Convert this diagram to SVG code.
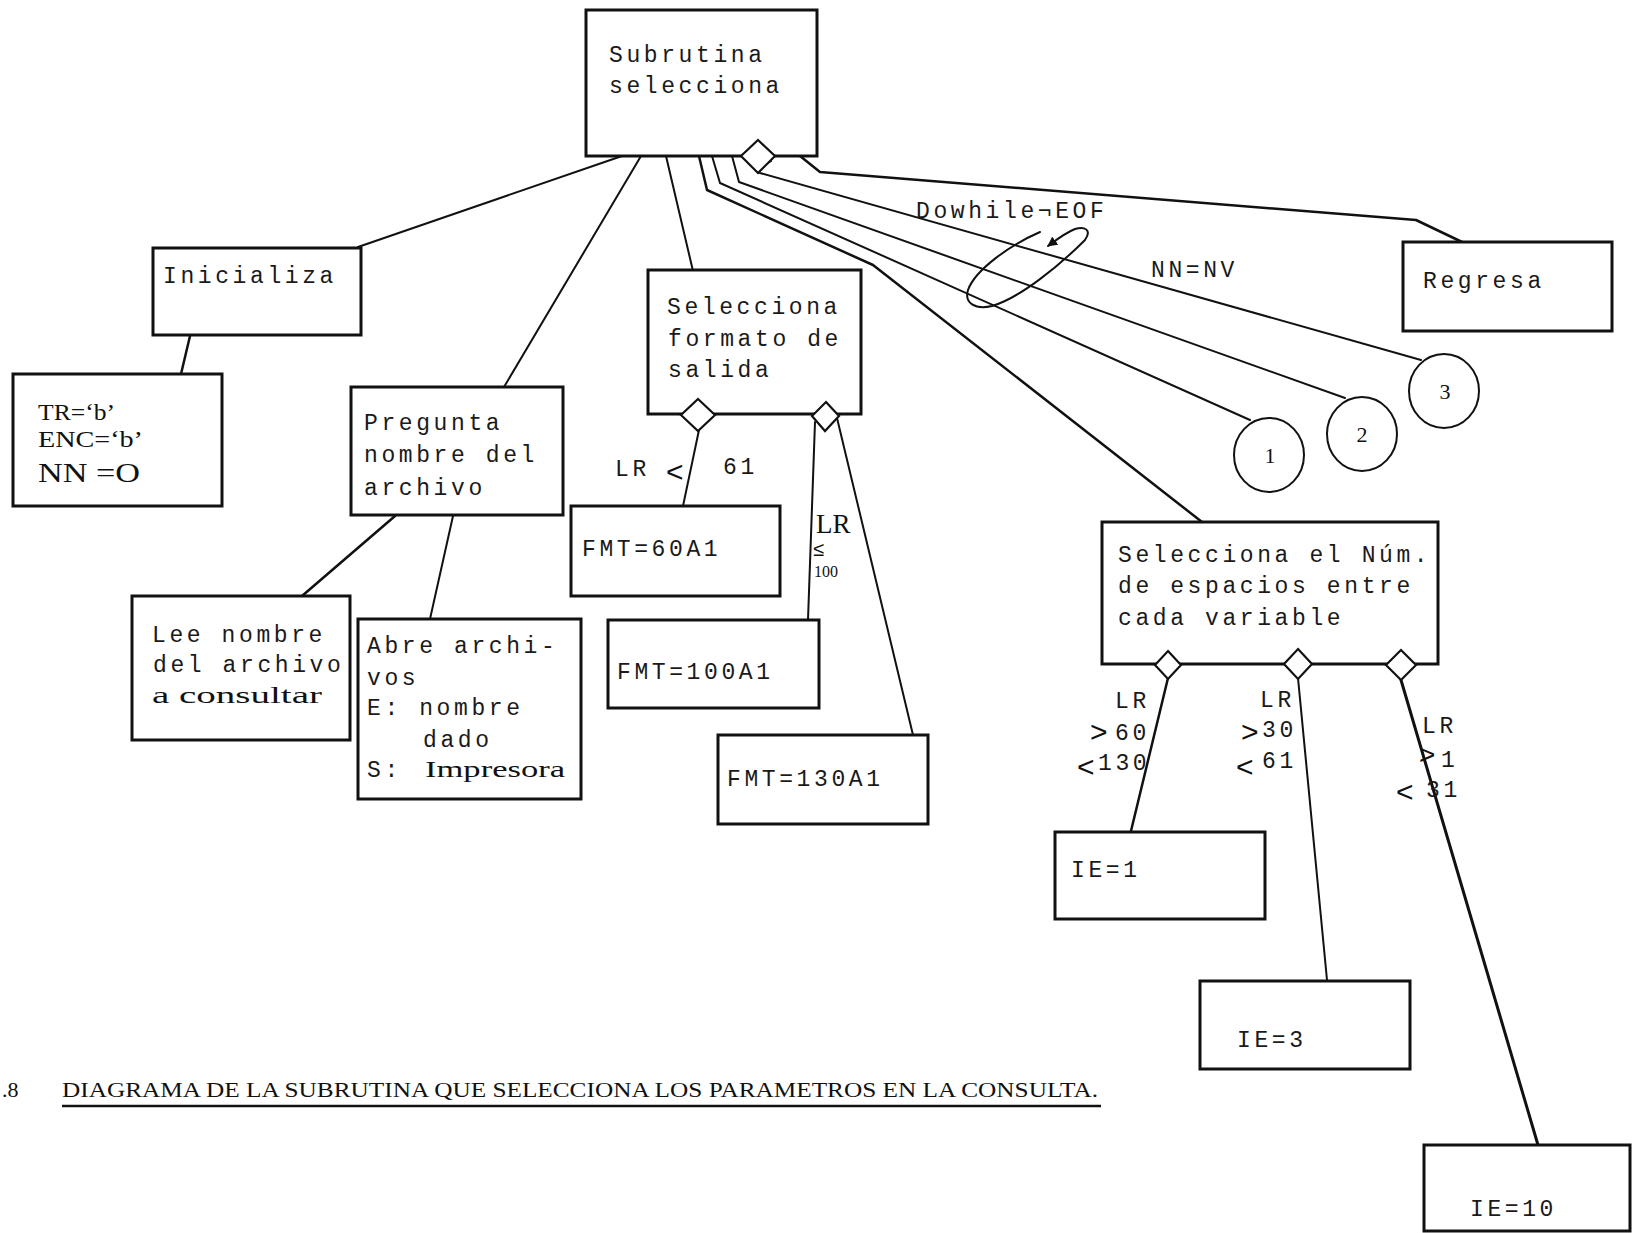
<svg xmlns="http://www.w3.org/2000/svg" width="1632" height="1233" viewBox="0 0 1632 1233">
<style>
.box{fill:#fff;stroke:#111;stroke-width:3}
.dia{fill:#fff;stroke:#111;stroke-width:2.2;stroke-linejoin:miter}
.ln{fill:none;stroke:#111;stroke-width:2;stroke-linejoin:round;stroke-linecap:round}
.tw{font-family:"Liberation Mono",monospace;font-size:23px;letter-spacing:3.6px;fill:#1a1a1a}
.hw{font-family:"Liberation Serif",serif;fill:#111}
.sym{font-family:"Liberation Sans",sans-serif;fill:#111}
.num{font-family:"Liberation Serif",serif;font-size:22px;fill:#111;text-anchor:middle}
.cap{font-family:"Liberation Serif",serif;font-size:22px;fill:#111}
</style>
<defs>
<marker id="ah" viewBox="0 0 10 10" refX="9" refY="5" markerWidth="5" markerHeight="5" orient="auto"><path d="M0,0 L10,5 L0,10 z" fill="#111"/></marker>
</defs>
<rect width="1632" height="1233" fill="#fff"/>

<!-- connectors -->
<g id="connectors">
  <path class="ln" d="M622,156 L358,247"/>
  <path class="ln" d="M641,156 L504,387"/>
  <path class="ln" d="M666,156 L693,271"/>
  <path class="ln" style="stroke-width:2.5" d="M699,156 L707,190 L873,265 L1202,522"/>
  <path class="ln" d="M712,156 L720,183 L1250,420"/>
  <path class="ln" d="M732,156 L739,182 L1345,398"/>
  <path class="ln" d="M771,161 C761,165 754,171 760,173 L1421,360"/>
  <path class="ln" style="stroke-width:2.5" d="M800,156 L820,172 L1416,220 L1462,242"/>
  <!-- loop marking the repetition -->
  <path class="ln" d="M1040,232 C1010,245 975,270 968,290 C964,303 975,310 992,306 C1020,298 1060,265 1085,240 C1092,230 1085,226 1075,229 C1065,233 1056,240 1048,246" marker-end="url(#ah)"/>
  <path class="ln" style="stroke-width:2.5" d="M190,336 L181,374"/>
  <path class="ln" style="stroke-width:2.5" d="M395,516 L302,596"/>
  <path class="ln" d="M453,516 L430,619"/>
  <path class="ln" d="M699,430 L683,506"/>
  <path class="ln" d="M815,422 L808,620"/>
  <path class="ln" d="M837,418 L913,735"/>
  <path class="ln" style="stroke-width:2.5" d="M1168,678 L1131,831"/>
  <path class="ln" d="M1298,678 L1327,980"/>
  <path class="ln" style="stroke-width:3" d="M1401,680 L1538,1145"/>
</g>

<!-- connector labels -->
<g id="labels">
  <text class="tw" x="916" y="218">Dowhile¬EOF</text>
  <text class="tw" x="1151" y="277">NN=NV</text>
  <text class="tw" x="615" y="476">LR</text>
  <text class="sym" x="666" y="482" font-size="30">&lt;</text>
  <text class="tw" x="723" y="474">61</text>
  <text class="hw" x="816" y="533" font-size="27">LR</text>
  <text class="sym" x="813" y="556" font-size="20">≤</text>
  <text class="hw" x="814" y="577" font-size="16">100</text>
  <text class="tw" x="1115" y="708">LR</text>
  <text class="sym" x="1090" y="742" font-size="30">&gt;</text>
  <text class="tw" x="1115" y="740">60</text>
  <text class="sym" x="1077" y="777" font-size="30">&lt;</text>
  <text class="tw" x="1098" y="770">130</text>
  <text class="tw" x="1260" y="707">LR</text>
  <text class="sym" x="1241" y="742" font-size="30">&gt;</text>
  <text class="tw" x="1262" y="737">30</text>
  <text class="sym" x="1236" y="777" font-size="30">&lt;</text>
  <text class="tw" x="1262" y="768">61</text>
  <text class="tw" x="1422" y="733">LR</text>
  <text class="sym" x="1419" y="764" font-size="28">&gt;</text>
  <text class="tw" x="1441" y="767">1</text>
  <text class="sym" x="1396" y="802" font-size="30">&lt;</text>
  <text class="tw" x="1426" y="797">31</text>
</g>

<g id="n-subrutina">
  <rect class="box" x="586" y="10" width="231" height="146"/>
  <text class="tw" x="609" y="62">Subrutina</text>
  <text class="tw" x="609" y="93">selecciona</text>
  <polygon class="dia" points="758,140 775,156 758,173 741,156"/>
</g>

<g id="n-inicializa">
  <rect class="box" x="153" y="248" width="208" height="87"/>
  <text class="tw" x="163" y="283">Inicializa</text>
</g>

<g id="n-valores">
  <rect class="box" x="13" y="374" width="209" height="132"/>
  <text class="hw" x="38" y="420" font-size="24" textLength="77" lengthAdjust="spacingAndGlyphs">TR=‘b’</text>
  <text class="hw" x="38" y="447" font-size="24" textLength="105" lengthAdjust="spacingAndGlyphs">ENC=‘b’</text>
  <text class="hw" x="38" y="482" font-size="28" textLength="102" lengthAdjust="spacingAndGlyphs">NN =O</text>
</g>

<g id="n-pregunta">
  <rect class="box" x="351" y="387" width="212" height="128"/>
  <text class="tw" x="364" y="430">Pregunta</text>
  <text class="tw" x="364" y="462">nombre del</text>
  <text class="tw" x="364" y="495">archivo</text>
</g>

<g id="n-lee">
  <rect class="box" x="132" y="596" width="218" height="144"/>
  <text class="tw" x="152" y="642">Lee nombre</text>
  <text class="tw" x="153" y="672">del archivo</text>
  <text class="hw" x="152" y="703" font-size="24" textLength="170" lengthAdjust="spacingAndGlyphs">a consultar</text>
</g>

<g id="n-abre">
  <rect class="box" x="358" y="619" width="223" height="180"/>
  <text class="tw" x="367" y="653">Abre archi-</text>
  <text class="tw" x="367" y="685">vos</text>
  <text class="tw" x="367" y="715">E: nombre</text>
  <text class="tw" x="423" y="747">dado</text>
  <text x="367" y="777"><tspan class="tw">S:</tspan><tspan class="hw" x="425" font-size="24" textLength="140" lengthAdjust="spacingAndGlyphs">Impresora</tspan></text>
</g>

<g id="n-formato">
  <rect class="box" x="648" y="270" width="213" height="144"/>
  <text class="tw" x="667" y="314">Selecciona</text>
  <text class="tw" x="668" y="346">formato de</text>
  <text class="tw" x="668" y="377">salida</text>
  <polygon class="dia" points="698,399 715,415 698,431 681,415"/>
  <polygon class="dia" points="826,402 839,416 825,431 812,416"/>
</g>

<g id="n-fmt60">
  <rect class="box" x="571" y="506" width="209" height="90"/>
  <text class="tw" x="582" y="556">FMT=60A1</text>
</g>

<g id="n-fmt100">
  <rect class="box" x="608" y="620" width="211" height="88"/>
  <text class="tw" x="617" y="679">FMT=100A1</text>
</g>

<g id="n-fmt130">
  <rect class="box" x="718" y="735" width="210" height="89"/>
  <text class="tw" x="727" y="786">FMT=130A1</text>
</g>

<g id="n-espacios">
  <rect class="box" x="1102" y="522" width="336" height="142"/>
  <text class="tw" x="1118" y="562">Selecciona el Núm.</text>
  <text class="tw" x="1118" y="593">de espacios entre</text>
  <text class="tw" x="1118" y="625">cada variable</text>
  <polygon class="dia" points="1168,651 1181,665 1168,679 1155,665"/>
  <polygon class="dia" points="1298,649 1312,664 1298,679 1284,664"/>
  <polygon class="dia" points="1401,650 1416,665 1401,680 1386,665"/>
</g>

<g id="n-ie1">
  <rect class="box" x="1055" y="832" width="210" height="87"/>
  <text class="tw" x="1071" y="877">IE=1</text>
</g>

<g id="n-ie3">
  <rect class="box" x="1200" y="981" width="210" height="88"/>
  <text class="tw" x="1237" y="1047">IE=3</text>
</g>

<g id="n-ie10">
  <rect class="box" x="1424" y="1145" width="206" height="86"/>
  <text class="tw" x="1470" y="1216">IE=10</text>
</g>

<g id="n-regresa">
  <rect class="box" x="1403" y="242" width="209" height="89"/>
  <text class="tw" x="1423" y="288">Regresa</text>
</g>

<g id="n-c1">
  <ellipse cx="1269" cy="455" rx="35" ry="37" fill="#fff" stroke="#111" stroke-width="2"/>
  <text class="num" x="1270" y="463">1</text>
</g>
<g id="n-c2">
  <ellipse cx="1362" cy="434" rx="35" ry="37" fill="#fff" stroke="#111" stroke-width="2"/>
  <text class="num" x="1362" y="442">2</text>
</g>
<g id="n-c3">
  <ellipse cx="1444" cy="391" rx="35" ry="37" fill="#fff" stroke="#111" stroke-width="2"/>
  <text class="num" x="1445" y="399">3</text>
</g>

<!-- figure caption -->
<g id="caption">
  <text class="cap" x="2" y="1097">.8</text>
  <text class="cap" x="62" y="1097" textLength="1036" lengthAdjust="spacingAndGlyphs">DIAGRAMA DE LA SUBRUTINA QUE SELECCIONA LOS PARAMETROS EN LA CONSULTA.</text>
  <line x1="62" y1="1106" x2="1101" y2="1106" stroke="#111" stroke-width="2.5"/>
</g>
</svg>
